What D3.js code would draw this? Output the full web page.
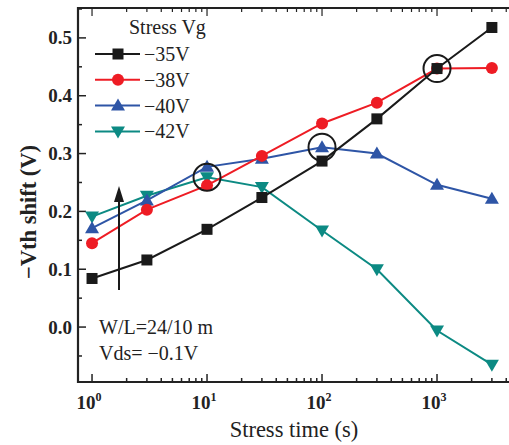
<!DOCTYPE html>
<html>
<head>
<meta charset="utf-8">
<script src="https://cdn.jsdelivr.net/npm/d3@7"></script>
<style>
  body { margin: 0; background: #fff; }
  text { font-family: "Liberation Serif", "Times New Roman", serif; }
</style>
</head>
<body>
<svg id="chart" width="509" height="445"></svg>
<script>
// stress times (s)
var times = [1, 3, 10, 30, 100, 300, 1000, 3000];

// -Vth shift (V) per stress gate voltage
var v35 = [0.084, 0.116, 0.169, 0.224, 0.287, 0.360, 0.447, 0.518];
var v38 = [0.145, 0.203, 0.245, 0.296, 0.352, 0.388, 0.447, 0.448];
var v40 = [0.171, 0.219, 0.277, 0.291, 0.311, 0.300, 0.246, 0.222];
var v42 = [0.191, 0.227, 0.259, 0.242, 0.167, 0.100, -0.006, -0.065];

var seriesNames = ["\u221235V", "\u221238V", "\u221240V", "\u221242V"];
var seriesColors = ["#1a1a1a", "#ee1c24", "#2e55a6", "#0c8a83"];
var seriesShapes = ["square", "circle", "up", "down"];
var seriesValues = [v35, v38, v40, v42];

// highlighted crossings [time, value]
var circled = [[10, 0.259], [100, 0.311], [1000, 0.447]];

var yTicks = [0.0, 0.1, 0.2, 0.3, 0.4, 0.5];
var xTicks = [1, 10, 100, 1000];

var svg = d3.select("#chart");
var plotL = 78, plotR = 509, plotT = 8, plotB = 382;

var x = d3.scaleLog().domain([Math.pow(10, -0.122), Math.pow(10, 3.626)]).range([plotL, plotR]);
var y = d3.scaleLinear().domain([-0.095, 0.5517]).range([plotB, plotT]);

// top frame line
svg.append("line").attr("x1", plotL).attr("x2", plotR).attr("y1", plotT).attr("y2", plotT)
  .attr("stroke", "#222").attr("stroke-width", 2);

// minor x ticks (pointing inward)
var minorX = [];
for (var d = 0; d <= 3; d++) {
  for (var m = 1; m <= 9; m++) {
    var v = m * Math.pow(10, d);
    if (x(v) <= plotR) minorX.push(v);
  }
}
svg.append("g").selectAll("line").data(minorX).enter().append("line")
  .attr("x1", function(d) { return x(d); }).attr("x2", function(d) { return x(d); })
  .attr("y1", plotB).attr("y2", function(d) { return xTicks.indexOf(d) >= 0 ? plotB - 8 : plotB - 4; })
  .attr("stroke", "#222").attr("stroke-width", 1.5);
svg.append("g").selectAll("line").data(minorX).enter().append("line")
  .attr("x1", function(d) { return x(d); }).attr("x2", function(d) { return x(d); })
  .attr("y1", plotT).attr("y2", function(d) { return xTicks.indexOf(d) >= 0 ? plotT + 8 : plotT + 4; })
  .attr("stroke", "#222").attr("stroke-width", 1.2);

// y ticks, major and minor
var yMinor = d3.range(-0.05, 0.551, 0.05);
svg.append("g").selectAll("line").data(yMinor).enter().append("line")
  .attr("x1", plotL).attr("x2", function(d, i) { return i % 2 === 1 ? plotL + 8 : plotL + 4; })
  .attr("y1", function(d) { return y(d); }).attr("y2", function(d) { return y(d); })
  .attr("stroke", "#222").attr("stroke-width", 1.5);

svg.append("line").attr("x1", plotL).attr("x2", plotR).attr("y1", plotB).attr("y2", plotB)
  .attr("stroke", "#222").attr("stroke-width", 2.2);
svg.append("line").attr("x1", plotL).attr("x2", plotL).attr("y1", plotT - 1).attr("y2", plotB + 1)
  .attr("stroke", "#222").attr("stroke-width", 2.2);

// y tick labels
svg.append("g").selectAll("text").data(yTicks).enter().append("text")
  .attr("x", plotL - 6).attr("y", function(d) { return y(d) + 6.5; })
  .attr("text-anchor", "end").attr("font-size", 19).attr("font-weight", "bold").attr("fill", "#222")
  .text(function(d) { return d.toFixed(1); });

// x tick labels 10^n
var xl = svg.append("g").selectAll("text").data(xTicks).enter().append("text")
  .attr("x", function(d) { return x(d) - 3; }).attr("y", plotB + 27)
  .attr("text-anchor", "middle").attr("font-size", 19).attr("font-weight", "bold").attr("fill", "#222");
xl.append("tspan").text("10");
xl.append("tspan").attr("dy", -8).attr("font-size", 12).text(function(d) { return Math.round(Math.log10(d)); });

// axis titles
svg.append("text").attr("x", 294).attr("y", 437).attr("text-anchor", "middle")
  .attr("font-size", 22.5).attr("fill", "#222").text("Stress time (s)");
svg.append("text").attr("transform", "translate(36,212) rotate(-90)").attr("text-anchor", "middle")
  .attr("font-size", 22.5).attr("font-weight", "bold").attr("fill", "#222").text("\u2212Vth shift (V)");

// marker drawing
function marker(g, shape, color, cx, cy) {
  if (shape === "square") {
    g.append("rect").attr("x", cx - 5.5).attr("y", cy - 5.5).attr("width", 11).attr("height", 11).attr("fill", color);
  } else if (shape === "circle") {
    g.append("circle").attr("cx", cx).attr("cy", cy).attr("r", 6).attr("fill", color);
  } else if (shape === "up") {
    g.append("path").attr("d", "M" + cx + "," + (cy - 7) + "L" + (cx + 7) + "," + (cy + 5) + "L" + (cx - 7) + "," + (cy + 5) + "Z").attr("fill", color);
  } else {
    g.append("path").attr("d", "M" + cx + "," + (cy + 7) + "L" + (cx + 7) + "," + (cy - 5) + "L" + (cx - 7) + "," + (cy - 5) + "Z").attr("fill", color);
  }
}

var line = d3.line().x(function(d) { return x(d[0]); }).y(function(d) { return y(d[1]); });

// draw series, black last so it sits on top
[3, 2, 1, 0].forEach(function(s) {
  var pts = times.map(function(t, i) { return [t, seriesValues[s][i]]; });
  var g = svg.append("g");
  g.append("path").attr("d", line(pts)).attr("fill", "none")
    .attr("stroke", seriesColors[s]).attr("stroke-width", 2);
  pts.forEach(function(p) { marker(g, seriesShapes[s], seriesColors[s], x(p[0]), y(p[1])); });
});

// circles
svg.append("g").selectAll("circle").data(circled).enter().append("circle")
  .attr("cx", function(d) { return x(d[0]); }).attr("cy", function(d) { return y(d[1]); })
  .attr("r", 13.5).attr("fill", "none").attr("stroke", "#1a1a1a").attr("stroke-width", 2);

// arrow
svg.append("line").attr("x1", 119).attr("x2", 119).attr("y1", 290).attr("y2", 196)
  .attr("stroke", "#1a1a1a").attr("stroke-width", 2);
svg.append("path").attr("d", "M119,186L124,202L114,202Z").attr("fill", "#1a1a1a");

// legend
svg.append("text").attr("x", 129).attr("y", 34).attr("font-size", 20).attr("fill", "#222").text("Stress Vg");
seriesNames.forEach(function(name, i) {
  var ly = 54 + i * 25.8;
  var g = svg.append("g");
  g.append("line").attr("x1", 95).attr("x2", 140).attr("y1", ly).attr("y2", ly)
    .attr("stroke", seriesColors[i]).attr("stroke-width", 2);
  marker(g, seriesShapes[i], seriesColors[i], 118, ly);
  g.append("text").attr("x", 144).attr("y", ly + 7).attr("font-size", 20).attr("fill", "#222").text(name);
});

// annotations
svg.append("text").attr("x", 99).attr("y", 334).attr("font-size", 20).attr("fill", "#222").text("W/L=24/10 m");
svg.append("text").attr("x", 99).attr("y", 360).attr("font-size", 20).attr("fill", "#222").text("Vds= \u22120.1V");
</script>
</body>
</html>
